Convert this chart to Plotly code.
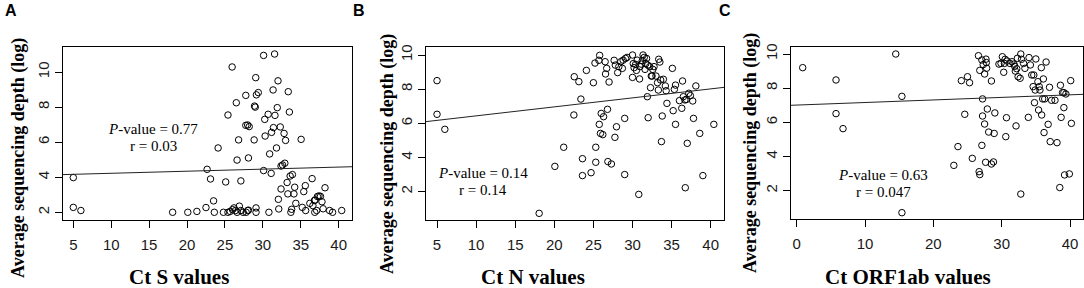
import plotly.graph_objects as go

# ---------------- data ----------------
ct_s = [5.0, 5.0, 6.0, 18.1, 20.1, 21.3, 22.5, 22.65, 23.1, 23.5, 23.6, 24.1, 24.8, 25.1, 25.4, 25.4,
        25.95, 25.7, 26.0, 26.2, 26.4, 26.6, 26.9, 27.1, 27.4, 27.8, 28.0, 28.1, 26.5, 26.6, 26.8, 27.1,
        27.75, 27.75, 28.0, 28.2, 28.1, 28.85, 28.9, 29.0, 29.06, 29.15, 29.4, 29.1, 29.1, 30.1, 30.25,
        30.3, 30.1, 30.7, 30.8, 30.9, 31.1, 31.15, 31.35, 31.4, 31.55, 31.6, 31.8, 31.9, 32.0, 32.05,
        32.1, 32.3, 32.4, 32.4, 32.6, 32.8, 32.9, 33.0, 33.2, 33.3, 33.35, 33.5, 33.6, 33.8, 33.9, 33.7,
        34.1, 34.2, 34.35, 35.05, 35.2, 35.4, 35.6, 35.65, 36.2, 36.5, 36.6, 36.8, 36.9, 36.85, 37.1,
        37.2, 37.4, 37.6, 37.8, 37.95, 38.2, 38.8, 39.2, 40.4]
depth_s = [3.98, 2.28, 2.1, 2.0, 2.0, 2.05, 2.27, 4.45, 3.9, 2.65, 2.0, 5.67, 2.0, 3.73, 7.55, 2.0,
           10.29, 2.05, 2.15, 2.25, 2.1, 2.0, 2.35, 2.1, 2.0, 2.0, 2.1, 2.12, 8.25, 4.98, 6.13, 3.79,
           8.67, 6.96, 6.98, 6.89, 5.1, 6.13, 8.06, 8.0, 9.68, 8.7, 8.83, 2.25, 2.0, 10.95, 7.3,
           6.35, 4.38, 7.59, 2.0, 5.33, 4.22, 6.56, 8.98, 6.83, 11.03, 7.53, 5.67, 7.97, 9.5, 2.74,
           2.19, 6.87, 3.33, 4.64, 4.7, 6.5, 4.8, 6.1, 3.7, 3.05, 8.88, 7.72, 4.07, 2.17, 4.15, 2.0,
           3.05, 3.43, 2.51, 6.16, 2.28, 3.18, 3.52, 2.1, 2.51, 3.92, 2.38, 2.67, 2.7, 2.0, 2.1,
           2.9, 2.93, 2.91, 2.6, 2.2, 3.4, 2.1, 2.0, 2.1]

ct_n = [5.0, 5.0, 6.0, 18.06, 20.07, 21.2, 22.55, 22.5, 23.14, 23.4, 23.6, 23.6, 24.1, 24.7, 25.0, 25.2,
        25.3, 25.3, 25.7, 25.75, 25.8, 25.9, 26.0, 26.2, 26.3, 26.5, 26.55, 26.7, 26.8, 26.85, 27.0,
        27.3, 27.65, 27.75, 27.8, 27.95, 28.1, 28.25, 28.5, 28.7, 28.8, 29.0, 29.0, 29.1, 29.3, 30.0,
        30.0, 30.1, 30.2, 30.4, 30.5, 30.6, 30.8, 30.9, 30.95, 31.1, 31.25, 31.35, 31.5, 31.6, 31.7,
        31.8, 31.9, 31.95, 32.0, 32.2, 32.3, 32.4, 32.5, 32.6, 32.75, 33.0, 33.2, 33.3, 33.35, 33.5,
        33.6, 33.7, 33.8, 33.95, 34.2, 34.3, 34.4, 35.1, 35.2, 35.35, 35.5, 35.5, 36.0, 36.3, 36.4,
        36.5, 36.7, 36.75, 36.9, 37.0, 37.2, 37.4, 37.7, 37.8, 38.1, 38.6, 39.0, 40.4]
depth_n = [8.5, 6.53, 5.65, 0.73, 3.48, 4.6, 8.73, 6.49, 8.44, 7.42, 3.93, 2.94, 9.1, 3.11, 8.38, 9.53,
           4.6, 3.72, 9.69, 5.94, 9.98, 5.41, 6.58, 5.34, 6.39, 9.61, 8.89, 9.22, 6.82, 3.76, 8.42,
           3.62, 9.69, 5.18, 9.41, 5.8, 8.97, 9.32, 9.61, 9.22, 9.7, 6.29, 3.0, 9.8, 9.86, 8.69,
           10.0, 9.5, 9.26, 9.45, 9.1, 9.7, 1.84, 8.6, 9.32, 9.47, 9.67, 10.0, 9.86, 9.16, 9.5,
           9.8, 7.56, 9.41, 6.33, 9.32, 8.09, 8.77, 8.77, 9.16, 9.32, 8.77, 8.38, 7.95, 9.75, 9.59,
           8.54, 4.93, 6.43, 8.58, 8.19, 7.91, 7.17, 9.22, 6.74, 7.99, 8.24, 5.94, 7.33, 6.88, 8.48,
           7.56, 7.37, 2.23, 7.4, 4.83, 7.76, 7.62, 7.31, 6.29, 8.19, 5.41, 2.94, 5.94]

ct_orf = [0.88, 5.76, 5.76, 6.78, 14.5, 15.4, 15.4, 23.0, 23.6, 24.1, 24.6, 25.0, 25.3, 25.7, 26.6, 26.7,
          26.8, 26.8, 27.1, 27.2, 27.2, 27.1, 27.3, 27.5, 27.5, 27.7, 27.75, 27.8, 27.65, 27.9, 28.1,
          28.5, 28.5, 28.8, 29.0, 28.9, 29.6, 29.9, 30.1, 30.3, 30.4, 30.5, 30.6, 30.7, 30.8, 31.2,
          31.5, 31.8, 31.9, 32.0, 32.1, 32.2, 32.3, 32.4, 32.7, 32.8, 32.8, 32.9, 33.2, 33.4, 33.9,
          34.0, 34.2, 34.4, 34.6, 34.7, 34.8, 34.9, 35.0, 35.3, 35.4, 35.5, 35.6, 35.8, 35.85, 36.0,
          36.1, 36.2, 36.3, 36.5, 36.8, 37.0, 37.1, 37.3, 37.8, 38.1, 38.5, 38.6, 38.7, 38.9, 39.1,
          39.2, 39.1, 39.4, 39.9, 40.1, 40.2]
depth_orf = [9.2, 8.48, 6.51, 5.63, 10.0, 7.52, 0.71, 3.48, 4.58, 8.44, 6.47, 8.67, 8.32, 3.89, 9.9, 3.11,
             2.94, 9.04, 4.65, 6.37, 7.37, 9.65, 9.38, 8.83, 5.9, 9.7, 9.5, 9.17, 3.66, 6.78, 5.43,
             8.42, 3.56, 3.68, 6.55, 5.35, 9.41, 9.45, 9.84, 8.93, 9.45, 9.69, 5.16, 6.27, 9.59, 9.45,
             9.55, 9.41, 9.28, 9.0, 5.79, 9.14, 9.75, 8.67, 8.58, 1.8, 10.0, 9.69, 9.45, 9.16, 6.29,
             9.79, 9.36, 8.77, 8.09, 8.77, 7.15, 7.89, 9.71, 8.38, 6.72, 8.09, 7.89, 9.2, 6.43, 7.37,
             8.54, 5.4, 7.37, 9.53, 5.88, 8.05, 4.87, 7.29, 7.29, 4.81, 2.18, 8.17, 6.29, 7.74, 7.74,
             2.92, 6.86, 7.66, 2.98, 8.44, 5.94]

# fitted regression lines (intercept, slope)
fit_s = (4.107, 0.0118)
fit_n = (5.91, 0.0527)
fit_orf = (7.01, 0.0150)

stats_s = ("0.77", "0.03")
stats_n = ("0.14", "0.14")
stats_orf = ("0.63", "0.047")

x_titles = ["Ct S values", "Ct N values", "Ct ORF1ab values"]
y_title = "Average sequencing depth (log)"
panel_letters = ["A", "B", "C"]

# ---------------- layout geometry (pixels) ----------------
W, H = 1084, 288
panels = [
    dict(x=ct_s, y=depth_s, fit=fit_s, stats=stats_s, box=(63, 352, 47, 220),
         xr=[3.64, 41.76], yr=[1.56, 11.43], xt=[5, 10, 15, 20, 25, 30, 35, 40], yt=[2, 4, 6, 8, 10],
         ann=(153, 129), ytitle_x=18, ytitle_y=158, xtitle=(179, 277), letter=(11, 11)),
    dict(x=ct_n, y=depth_n, fit=fit_n, stats=stats_n, box=(426, 724, 47, 220),
         xr=[3.59, 41.7], yr=[0.34, 10.47], xt=[5, 10, 15, 20, 25, 30, 35, 40], yt=[2, 4, 6, 8, 10],
         ann=(483, 173), ytitle_x=387, ytitle_y=154, xtitle=(533, 277), letter=(359, 11)),
    dict(x=ct_orf, y=depth_orf, fit=fit_orf, stats=stats_orf, box=(791, 1083, 47, 219),
         xr=[-0.83, 41.9], yr=[0.34, 10.41], xt=[0, 10, 20, 30, 40], yt=[2, 4, 6, 8, 10],
         ann=(883, 175), ytitle_x=750, ytitle_y=153, xtitle=(908, 277), letter=(725, 11)),
]

fig = go.Figure()
annotations = []
tick_font = dict(family="Liberation Sans, Arial, sans-serif", size=15, color="#1a1a1a")
serif = "Liberation Serif, Times New Roman, serif"


def ann(px, py, text, font, angle=0):
    return dict(x=px / W, y=1 - py / H, xref="paper", yref="paper", showarrow=False,
                xanchor="center", yanchor="middle", text=text, font=font, textangle=angle)


for i, p in enumerate(panels):
    k = "" if i == 0 else str(i + 1)
    x0, x1, y0, y1 = p["box"]
    fig.add_trace(go.Scatter(
        x=p["x"], y=p["y"], mode="markers", xaxis="x" + k, yaxis="y" + k,
        marker=dict(symbol="circle-open", size=6.5, color="black", line=dict(width=1, color="black")),
        showlegend=False, hoverinfo="x+y", cliponaxis=False))
    b0, b1 = p["fit"]
    fx = p["xr"]
    fy = [b0 + b1 * v for v in fx]
    fig.add_trace(go.Scatter(
        x=fx, y=fy, mode="lines", xaxis="x" + k, yaxis="y" + k,
        line=dict(color="#222", width=1), showlegend=False, hoverinfo="skip"))
    ax = dict(domain=[x0 / W, x1 / W], range=p["xr"], tickvals=p["xt"], anchor="y" + k,
              showline=True, mirror=True, linecolor="black", linewidth=1, ticks="outside",
              ticklen=7, tickcolor="black", showgrid=False, zeroline=False, tickfont=tick_font,
              ticklabelstandoff=4, automargin=False)
    ay = dict(domain=[1 - y1 / H, 1 - y0 / H], range=p["yr"], tickvals=p["yt"], anchor="x" + k,
              showline=True, mirror=True, linecolor="black", linewidth=1, ticks="outside",
              ticklen=7, tickcolor="black", showgrid=False, zeroline=False, tickfont=tick_font,
              tickangle=-90, automargin=False)
    fig.update_layout(**{"xaxis" + k: ax, "yaxis" + k: ay})

    ax_, ay_ = p["ann"]
    sfont = dict(family=serif, size=15, color="black")
    annotations.append(ann(ax_, ay_, "<i>P</i>-value = " + p["stats"][0], sfont))
    annotations.append(ann(ax_, ay_ + 17, "r = " + p["stats"][1], sfont))
    annotations.append(ann(p["ytitle_x"], p["ytitle_y"], "<b>" + y_title + "</b>",
                           dict(family=serif, size=18, color="black"), angle=-90))
    tx, ty = p["xtitle"]
    annotations.append(ann(tx, ty, "<b>" + x_titles[i] + "</b>", dict(family=serif, size=21, color="black")))
    lx, ly = p["letter"]
    annotations.append(ann(lx, ly, "<b>" + panel_letters[i] + "</b>",
                           dict(family="Liberation Sans, Arial, sans-serif", size=16, color="black")))

fig.update_layout(width=W, height=H, margin=dict(l=0, r=0, t=0, b=0, pad=0, autoexpand=False),
                  paper_bgcolor="white", plot_bgcolor="white", annotations=annotations)
fig.write_html("out.html", config={"displayModeBar": False},
               post_script="document.body.style.margin='0';document.body.style.overflow='hidden';")
